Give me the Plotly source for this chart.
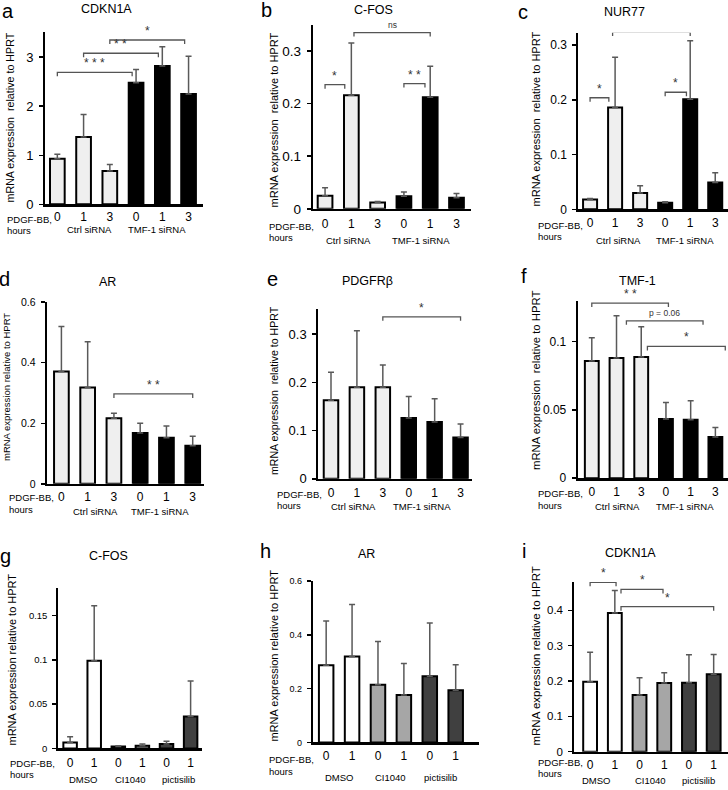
import plotly.graph_objects as go

W, H = 728, 790
FONT = "Liberation Sans, Arial, sans-serif"

# ---------------- data ----------------
sirna_ticks = ["0", "1", "3", "0", "1", "3"]
inhib_ticks = ["0", "1", "0", "1", "0", "1"]
sirna_groups = ["Ctrl siRNA", "TMF-1 siRNA"]
inhib_groups = ["DMSO", "CI1040", "pictisilib"]

a_mean = [0.93, 1.37, 0.68, 2.48, 2.82, 2.25]
a_err = [0.09, 0.46, 0.13, 0.27, 0.39, 0.77]
b_mean = [0.025, 0.216, 0.012, 0.024, 0.212, 0.021]
b_err = [0.015, 0.099, 0.002, 0.008, 0.059, 0.008]
c_mean = [0.018, 0.186, 0.030, 0.012, 0.201, 0.049]
c_err = [0.002, 0.092, 0.013, 0.002, 0.107, 0.018]
d_mean = [0.371, 0.318, 0.217, 0.168, 0.152, 0.126]
d_err = [0.149, 0.151, 0.016, 0.032, 0.039, 0.031]
e_mean = [0.163, 0.190, 0.190, 0.126, 0.118, 0.086]
e_err = [0.058, 0.117, 0.046, 0.045, 0.048, 0.028]
f_mean = [0.0856, 0.0878, 0.0886, 0.0433, 0.0426, 0.030]
f_err = [0.017, 0.031, 0.022, 0.012, 0.014, 0.007]
g_mean = [0.0067, 0.099, 0.002, 0.003, 0.005, 0.036]
g_err = [0.0063, 0.062, 0.001, 0.002, 0.003, 0.040]
h_mean = [0.287, 0.319, 0.214, 0.176, 0.246, 0.194]
h_err = [0.164, 0.194, 0.161, 0.117, 0.198, 0.095]
i_mean = [0.198, 0.392, 0.160, 0.194, 0.195, 0.219]
i_err = [0.083, 0.064, 0.049, 0.029, 0.079, 0.056]

# significance brackets: (x start, x end, height, label)
a_brk = [(0.0, 2.85, 2.69, "* * *"), (1.0, 3.85, 3.08, "* *"), (2.0, 4.85, 3.35, "*")]
b_brk = [(0.0, 0.75, 0.236, "*"), (3.0, 3.8, 0.238, "* *"), (1.1, 4.0, 0.335, "ns")]
c_brk = [(0.0, 0.75, 0.204, "*"), (3.0, 3.85, 0.214, "*"), (0.9, 4.0, 0.324, "ns")]
d_brk = [(2.0, 5.0, 0.297, "* *")]
e_brk = [(2.0, 5.0, 0.336, "*")]
f_brk = [(0.0, 3.1, 0.128, "* *"), (1.4, 4.5, 0.115, "p = 0.06"), (2.25, 5.4, 0.0963, "*")]
g_brk = []
h_brk = []
i_brk = [(0.0, 1.05, 0.479, "*"), (1.25, 2.95, 0.459, "*"), (1.25, 5.0, 0.41, "*")]

a_yt = [0, 1, 2, 3]
b_yt = [0, 0.1, 0.2, 0.3]
c_yt = [0, 0.1, 0.2, 0.3]
d_yt = [0, 0.2, 0.4, 0.6]
e_yt = [0, 0.1, 0.2, 0.3]
f_yt = [0, 0.05, 0.1]
g_yt = [0, 0.05, 0.1, 0.15]
h_yt = [0, 0.2, 0.4, 0.6]
i_yt = [0, 0.1, 0.2, 0.3, 0.4]

sirna_colors = ["#efefef"] * 3 + ["#000000"] * 3
inhib_colors = ["#ffffff"] * 2 + ["#a6a6a6"] * 2 + ["#404040"] * 2

YT_LONG = "mRNA expression  relative to HPRT"
YT_SHORT = "mRNA expression relative to HPRT"

# ---------------- layout geometry (pixels) ----------------
panels = [
    dict(L="a", title="CDKN1A", mean=a_mean, err=a_err, brk=a_brk, yt=a_yt, kind="s",
         x0=45, x1=203, yb=205, ytop=32, ymax=3.52, xr=(-0.47, 5.55), ytf=13,
         let=(8, 11), tit=(106, 9), ytl=(10, 118, 10.7, YT_LONG), pd=(5, 220, 231),
         tky=0, grp=[(89, 230), (157, 230)]),
    dict(L="b", title="C-FOS", mean=b_mean, err=b_err, brk=b_brk, yt=b_yt, kind="s",
         x0=312.7, x1=470.7, yb=209.5, ytop=25, ymax=0.35, xr=(-0.47, 5.54), ytf=13.5,
         let=(266, 10), tit=(374, 10), ytl=(274, 121, 11, YT_LONG), pd=(267, 227, 238),
         tky=2, grp=[(348, 241), (421, 241)]),
    dict(L="c", title="NUR77", mean=c_mean, err=c_err, brk=c_brk, yt=c_yt, kind="s",
         x0=578.3, x1=728, yb=210, ytop=33, ymax=0.323, xr=(-0.47, 5.51), ytf=12,
         let=(523, 12), tit=(624, 12), ytl=(536, 120, 11, YT_LONG), pd=(536, 226, 237),
         tky=1, grp=[(618, 241), (685, 241)]),
    dict(L="d", title="AR", mean=d_mean, err=d_err, brk=d_brk, yt=d_yt, kind="s",
         x0=46.7, x1=204, yb=485, ytop=303, ymax=0.6, xr=(-0.56, 5.43), ytf=10.5,
         let=(4, 280), tit=(107, 283), ytl=(6, 388, 9.5, YT_SHORT), pd=(7, 499, 511),
         tky=0, grp=[(95, 513), (160, 513)]),
    dict(L="e", title="PDGFR\u03b2", mean=e_mean, err=e_err, brk=e_brk, yt=e_yt, kind="s",
         x0=318.3, x1=471.7, yb=480, ytop=310, ymax=0.352, xr=(-0.49, 5.43), ytf=13,
         let=(272, 280), tit=(367, 282), ytl=(274, 392, 10.6, YT_LONG), pd=(275, 496, 507),
         tky=1, grp=[(353, 508), (422, 508)]),
    dict(L="f", title="TMF-1", mean=f_mean, err=f_err, brk=f_brk, yt=f_yt, kind="s",
         x0=577.7, x1=728, yb=479.3, ytop=301.7, ymax=0.1296, xr=(-0.57, 5.51), ytf=12,
         let=(524, 277), tit=(637, 282), ytl=(536, 382, 11.3, YT_LONG), pd=(536, 495, 507),
         tky=1, grp=[(617, 508), (685, 508)]),
    dict(L="g", title="C-FOS", mean=g_mean, err=g_err, brk=g_brk, yt=g_yt, kind="i",
         x0=58.3, x1=201.7, yb=750, ytop=589.3, ymax=0.181, xr=(-0.49, 5.46), ytf=9.5,
         let=(5, 557), tit=(108, 557), ytl=(12, 661, 11, YT_SHORT), pd=(8, 765, 776),
         tky=2, grp=[(83, 781), (130, 781), (178, 781)]),
    dict(L="h", title="AR", mean=h_mean, err=h_err, brk=h_brk, yt=h_yt, kind="i",
         x0=312.7, x1=479, yb=744, ytop=582.3, ymax=0.6, xr=(-0.52, 5.9), ytf=9,
         let=(265, 552), tit=(366, 555), ytl=(274, 657, 11, YT_SHORT), pd=(267, 761, 773),
         tky=1, grp=[(339, 779), (390, 779), (440, 779)]),
    dict(L="i", title="CDKN1A", mean=i_mean, err=i_err, brk=i_brk, yt=i_yt, kind="i",
         x0=574.3, x1=728, yb=753.3, ytop=583.3, ymax=0.48, xr=(-0.64, 5.58), ytf=11.5,
         let=(524, 552), tit=(630, 554), ytl=(536, 658, 11.5, YT_SHORT), pd=(536, 764, 775),
         tky=0, grp=[(596, 782), (650, 782), (698, 782)]),
]

# vertical correction measured for the renderer (content comes out ~1.6% shorter)
VSCALE = 0.984


def px(x):
    return x / W


def py(y):
    yc = H / 2 + (y - H / 2) / VSCALE
    return 1 - yc / H


fig = go.Figure()
annotations = []
shapes = []
layout = {}

for k, p in enumerate(panels):
    n = k + 1
    sx = "" if n == 1 else str(n)
    xa, ya = "x" + sx, "y" + sx
    cats = list(range(len(p["mean"])))
    colors = sirna_colors if p["kind"] == "s" else inhib_colors
    ticks = sirna_ticks if p["kind"] == "s" else inhib_ticks
    groups = sirna_groups if p["kind"] == "s" else inhib_groups

    fig.add_trace(go.Bar(
        x=cats, y=p["mean"], xaxis=xa, yaxis=ya, width=0.56,
        marker=dict(color=colors, line=dict(color="black", width=2)),
        error_y=dict(type="data", symmetric=False, array=p["err"],
                     arrayminus=[0] * len(cats), color="#595959",
                     thickness=1.5, width=3),
        showlegend=False, hoverinfo="skip"))

    layout["xaxis" + sx] = dict(
        domain=[px(p["x0"]), px(p["x1"])], anchor=ya, range=list(p["xr"]),
        showline=True, linecolor="black", linewidth=2.5, showgrid=False,
        zeroline=False, ticks="", tickvals=cats, ticktext=ticks,
        tickfont=dict(family=FONT, size=12, color="black"),
        ticklabelstandoff=p["tky"], fixedrange=True)
    layout["yaxis" + sx] = dict(
        domain=[py(p["yb"]), py(p["ytop"])], anchor=xa, range=[0, p["ymax"]],
        showline=True, linecolor="black", linewidth=2, showgrid=False,
        zeroline=False, ticks="outside", ticklen=4, tickwidth=1.5,
        tickcolor="black", tickvals=p["yt"], ticktext=[str(v) for v in p["yt"]],
        tickfont=dict(family=FONT, size=p["ytf"], color="black"),
        ticklabelstandoff=3, fixedrange=True)

    # brackets
    drop = p["ymax"] * 4.0 / (p["yb"] - p["ytop"])
    for (xs, xe, yv, lab) in p["brk"]:
        shapes.append(dict(
            type="path", xref=xa, yref=ya,
            path=f"M {xs},{yv - drop} L {xs},{yv} L {xe},{yv} L {xe},{yv - drop}",
            line=dict(color="#555555", width=1.3)))
        small = lab == "ns" or lab.startswith("p")
        annotations.append(dict(
            x=(xs + xe) / 2, y=yv, xref=xa, yref=ya, text=lab, showarrow=False,
            xanchor="center", yanchor="bottom", yshift=0 if not small else 1,
            font=dict(family=FONT, size=8.5 if small else 12, color="#333333")))

    # texts
    annotations.append(dict(x=px(p["let"][0]), y=py(p["let"][1]), xref="paper", yref="paper",
                            text=p["L"], showarrow=False, xanchor="center", yanchor="middle",
                            font=dict(family=FONT, size=20, color="black")))
    annotations.append(dict(x=px(p["tit"][0]), y=py(p["tit"][1]), xref="paper", yref="paper",
                            text=p["title"], showarrow=False, xanchor="center", yanchor="middle",
                            font=dict(family=FONT, size=12.5, color="black")))
    tx, ty, ts, tt = p["ytl"]
    annotations.append(dict(x=px(tx), y=py(ty), xref="paper", yref="paper", text=tt,
                            textangle=-90, showarrow=False, xanchor="center", yanchor="middle",
                            font=dict(family=FONT, size=ts, color="black")))
    pdx, pdy1, pdy2 = p["pd"]
    annotations.append(dict(x=px(pdx), y=py(pdy1), xref="paper", yref="paper", text="PDGF-BB,",
                            showarrow=False, xanchor="left", yanchor="middle",
                            font=dict(family=FONT, size=9.5, color="black")))
    annotations.append(dict(x=px(pdx), y=py(pdy2), xref="paper", yref="paper", text="hours",
                            showarrow=False, xanchor="left", yanchor="middle",
                            font=dict(family=FONT, size=9.5, color="black")))
    for gname, (gx, gy) in zip(groups, p["grp"]):
        annotations.append(dict(x=px(gx), y=py(gy), xref="paper", yref="paper", text=gname,
                                showarrow=False, xanchor="center", yanchor="middle",
                                font=dict(family=FONT, size=9.5, color="black")))

fig.update_layout(
    width=W, height=H, margin=dict(l=0, r=0, t=0, b=0),
    paper_bgcolor="white", plot_bgcolor="white",
    annotations=annotations, shapes=shapes, bargap=0.4, **layout)

fig.write_html(
    "out.html",
    config={"displayModeBar": False, "staticPlot": True},
    post_script=("document.documentElement.style.margin='0px';"
                 "document.body.style.margin='0px';"
                 "document.documentElement.style.overflow='hidden';"
                 "document.body.style.overflow='hidden';"),
)
